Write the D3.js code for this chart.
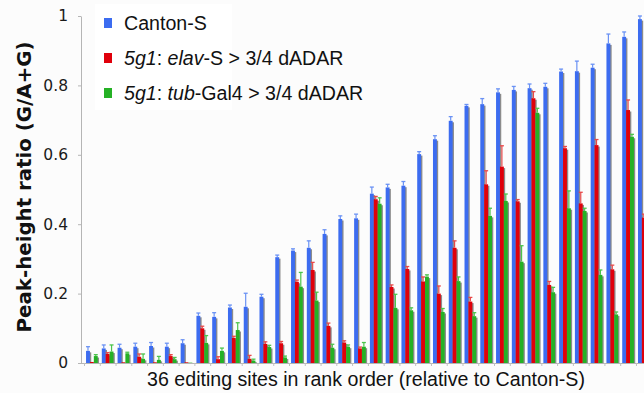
<!DOCTYPE html>
<html>
<head>
<meta charset="utf-8">
<script src="https://cdn.jsdelivr.net/npm/d3@7"></script>
<style>
  html, body { margin: 0; padding: 0; background: #fcfcfc; overflow: hidden; }
  svg { display: block; }
</style>
</head>
<body>
<svg id="chart" width="644" height="393"></svg>
<script>
// Editing sites, ranked by Canton-S editing level
const sites = d3.range(1, 37).map(i => "site " + i);

const seriesNames = ["Canton-S", "elav", "tub"];

const canton    = [0.035,0.042,0.044,0.047,0.049,0.047,0.057,0.136,0.133,0.160,0.162,0.191,0.305,0.324,0.332,0.372,0.415,0.417,0.488,0.506,0.511,0.602,0.645,0.698,0.741,0.746,0.780,0.787,0.792,0.796,0.840,0.841,0.851,0.921,0.940,0.991];
const cantonErr = [0.012,0.010,0.010,0.010,0.010,0.010,0.010,0.008,0.012,0.007,0.039,0.007,0.006,0.005,0.020,0.012,0.009,0.012,0.019,0.009,0.012,0.007,0.010,0.012,0.004,0.016,0.010,0.010,0.012,0.010,0.007,0.029,0.010,0.027,0.014,0.009];

const elav    = [0.003,0.026,0.002,0.018,0.002,0.020,0.002,0.100,0.011,0.072,0.012,0.055,0.057,0.234,0.268,0.107,0.059,0.042,0.472,0.219,0.271,0.235,0.200,0.332,0.177,0.515,0.566,0.466,0.763,0.225,0.619,0.460,0.628,0.270,0.729,0.419];
const elavErr = [0.000,0.004,0.000,0.008,0.000,0.004,0.000,0.006,0.007,0.005,0.010,0.006,0.005,0.005,0.022,0.008,0.005,0.004,0.008,0.006,0.007,0.013,0.022,0.020,0.012,0.039,0.060,0.005,0.019,0.010,0.005,0.032,0.016,0.012,0.029,0.010];

const tub    = [0.020,0.033,0.028,0.012,0.009,0.011,0.001,0.058,0.035,0.095,0.007,0.046,0.016,0.220,0.180,0.044,0.047,0.047,0.459,0.159,0.152,0.249,0.147,0.236,0.135,0.424,0.467,0.292,0.721,0.204,0.446,0.438,0.254,0.140,0.652,0.380];
const tubErr = [0.004,0.019,0.003,0.014,0.010,0.005,0.000,0.021,0.008,0.021,0.004,0.005,0.004,0.041,0.024,0.010,0.005,0.012,0.017,0.039,0.007,0.005,0.010,0.012,0.010,0.022,0.020,0.046,0.013,0.014,0.050,0.008,0.014,0.007,0.007,0.010];

const yTicks = [0, 0.2, 0.4, 0.6, 0.8, 1];

const barColors = { "Canton-S": "#3c6cf0", "elav": "#e0000b", "tub": "#25b125" };
const errColors = { "Canton-S": "#6a92f4", "elav": "#e84848", "tub": "#4cc44c" };

const values = { "Canton-S": canton, "elav": elav, "tub": tub };
const errors = { "Canton-S": cantonErr, "elav": elavErr, "tub": tubErr };

const svg = d3.select("#chart");

const axisX = 81, yTop = 16, yBase = 363;
const step = 15.77;
const xStart = 84;

const y = d3.scaleLinear().domain([0, 1]).range([yBase, yTop]);
const x = d3.scaleBand().domain(sites).range([xStart, xStart + step * sites.length]).padding(0);
const xs = d3.scaleBand().domain(seriesNames).range([0, 11.7]).padding(0);
const groupOffset = (x.bandwidth() - 11.7) / 2;

// Y axis
const yAxis = d3.axisLeft(y)
  .tickValues(yTicks)
  .tickFormat(d => d === 0 ? "0" : d === 1 ? "1" : d3.format(".1f")(d))
  .tickSize(3)
  .tickSizeOuter(0)
  .tickPadding(10);

const gy = svg.append("g").attr("transform", `translate(${axisX},0)`).call(yAxis);
gy.select(".domain").attr("stroke", "#b5b5b5");
gy.selectAll(".tick line").attr("stroke", "#b5b5b5");
gy.selectAll(".tick text")
  .attr("fill", "#1a1a1a")
  .style("font-family", "'DejaVu Sans', Verdana, sans-serif")
  .style("font-size", "15.5px");

// X axis: baseline with ticks between sites
const xb = d3.scaleLinear().domain([0, sites.length]).range([xStart, xStart + step * sites.length]);
const xAxis = d3.axisBottom(xb).tickValues(d3.range(0, sites.length + 1)).tickFormat("").tickSize(3).tickSizeOuter(0);
const gx = svg.append("g").attr("transform", `translate(0,${yBase})`).call(xAxis);
gx.select(".domain").attr("stroke", "#b5b5b5").attr("d", `M${axisX},0.5H${xStart + step * sites.length}`);
gx.selectAll(".tick line").attr("stroke", "#c0c0c0");

// Bars
const groups = svg.append("g").selectAll("g.site")
  .data(sites)
  .join("g")
  .attr("class", "site")
  .attr("transform", d => `translate(${x(d) + groupOffset},0)`);

groups.each(function(site, i) {
  const g = d3.select(this);
  const recs = seriesNames.map(s => ({ s, v: values[s][i], e: errors[s][i] }));

  // drop shadows
  g.selectAll("rect.shadow").data(recs).join("rect")
    .attr("class", "shadow")
    .attr("x", d => xs(d.s) + 1.3)
    .attr("y", d => y(d.v) + 1.5)
    .attr("width", xs.bandwidth())
    .attr("height", d => Math.max(0, yBase - y(d.v) - 1.5))
    .attr("fill", "#8c8c8c");

  g.selectAll("rect.bar").data(recs).join("rect")
    .attr("class", "bar")
    .attr("x", d => xs(d.s))
    .attr("y", d => y(d.v))
    .attr("width", xs.bandwidth())
    .attr("height", d => yBase - y(d.v))
    .attr("fill", d => barColors[d.s]);

  // upward error bars
  const eb = g.selectAll("g.err").data(recs.filter(d => d.e > 0)).join("g").attr("class", "err");
  eb.append("line")
    .attr("x1", d => xs(d.s) + xs.bandwidth() / 2)
    .attr("x2", d => xs(d.s) + xs.bandwidth() / 2)
    .attr("y1", d => y(d.v))
    .attr("y2", d => y(d.v + d.e))
    .attr("stroke", d => errColors[d.s])
    .attr("stroke-width", 1.2);
  eb.append("line")
    .attr("x1", d => xs(d.s) + xs.bandwidth() / 2 - 2)
    .attr("x2", d => xs(d.s) + xs.bandwidth() / 2 + 2)
    .attr("y1", d => y(d.v + d.e))
    .attr("y2", d => y(d.v + d.e))
    .attr("stroke", d => errColors[d.s])
    .attr("stroke-width", 1.3);
});

// Axis titles
svg.append("text")
  .attr("transform", "translate(31,187) rotate(-90)")
  .attr("text-anchor", "middle")
  .style("font-family", "'DejaVu Sans', Verdana, sans-serif")
  .style("font-weight", "bold")
  .style("font-size", "19.8px")
  .attr("fill", "#111")
  .text("Peak-height ratio (G/A+G)");

svg.append("text")
  .attr("x", 366)
  .attr("y", 386)
  .attr("text-anchor", "middle")
  .style("font-family", "'Liberation Sans', Arial, sans-serif")
  .style("font-size", "19.6px")
  .attr("fill", "#111")
  .text("36 editing sites in rank order (relative to Canton-S)");

// Legend
const legend = svg.append("g");
legend.append("rect")
  .attr("x", 95).attr("y", 4).attr("width", 137).attr("height", 106)
  .attr("fill", "#ffffff");

const legendRows = [
  { s: "Canton-S", parts: [["Canton-S", false]] },
  { s: "elav", parts: [["5g1", true], [": ", false], ["elav", true], ["-S > 3/4 dADAR", false]] },
  { s: "tub", parts: [["5g1", true], [": ", false], ["tub", true], ["-Gal4 > 3/4 dADAR", false]] }
];

legendRows.forEach((row, k) => {
  const cy = 23 + k * 35;
  legend.append("rect")
    .attr("x", 104).attr("y", cy - 5).attr("width", 8).attr("height", 10)
    .attr("fill", barColors[row.s]);
  const t = legend.append("text")
    .attr("x", 124).attr("y", cy + 7)
    .style("font-family", "'Liberation Sans', Arial, sans-serif")
    .style("font-size", "19.6px")
    .attr("fill", "#111");
  row.parts.forEach(([txt, it]) => {
    t.append("tspan").attr("font-style", it ? "italic" : "normal").attr("xml:space", "preserve").text(txt);
  });
});
</script>
</body>
</html>
